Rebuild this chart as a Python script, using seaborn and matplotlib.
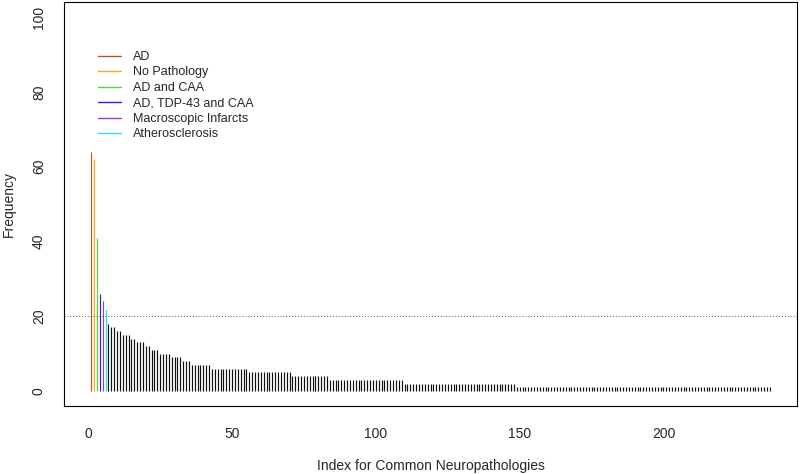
import numpy as np
import pandas as pd
import matplotlib
matplotlib.use("Agg")
import matplotlib.pyplot as plt
import seaborn as sns
from matplotlib.lines import Line2D

# top six pathologies (coloured) then the rest, as runs of equal frequency
top_labels = ['AD', 'No Pathology', 'AD and CAA', 'AD, TDP-43 and CAA',
              'Macroscopic Infarcts', 'Atherosclerosis']
top_freq = [64, 62, 41, 26, 24, 22]
top_colors = ['#C8501E', '#F5A623', '#55D43F', '#2525E0', '#9A3CC8', '#1EE6F0']

rest_values = [18, 17, 16, 15, 14, 13, 12, 11, 10, 9, 8, 7, 6, 5, 4, 3, 2, 1]
rest_counts = [1, 2, 2, 3, 2, 3, 2, 3, 4, 4, 3, 7, 13, 15, 13, 26, 39, 89]

threshold = 20

freq = top_freq + [v for v, c in zip(rest_values, rest_counts) for _ in range(c)]
df = pd.DataFrame({'index': np.arange(1, len(freq) + 1), 'freq': freq})
df['color'] = top_colors + ['#111111'] * (len(freq) - len(top_colors))

sns.set_style("white")
plt.rcParams['font.family'] = ['Liberation Sans', 'DejaVu Sans']

fig = plt.figure(figsize=(8, 4.74), dpi=100)
ax = fig.add_axes([64 / 800, 1 - 406 / 474, 733 / 800, 404 / 474])

ax.vlines(df['index'], 0, df['freq'], colors=df['color'], linewidth=0.85)
ax.axhline(threshold, color='#555555', linestyle=(0, (1, 2)), linewidth=0.7)

n = len(df)
ax.set_xlim(1 - 0.04 * (n - 1), n + 0.04 * (n - 1))
ax.set_ylim(-4, 104)
ax.set_xticks([0, 50, 100, 150, 200])
ax.set_yticks([0, 20, 40, 60, 80, 100])
ax.tick_params(axis='both', direction='out', length=6, width=0.8,
               labelsize=10, color='black')
ax.tick_params(axis='x', pad=9)
ax.tick_params(axis='y', pad=7)
for lab in ax.get_yticklabels():
    lab.set_rotation(90)
    lab.set_va('center')
for s in ax.spines.values():
    s.set_color('black')
    s.set_linewidth(0.8)

ax.set_xlabel('Index for Common Neuropathologies', fontsize=10)
ax.set_ylabel('Frequency', fontsize=10)
ax.xaxis.set_label_coords(0.5, -(466 - 406) / 404)
ax.xaxis.label.set_va('center')
ax.yaxis.set_label_coords(-(64 - 9) / 733, 0.5)
ax.yaxis.label.set_va('center')

handles = [Line2D([0], [0], color=c, linewidth=1.0) for c in top_colors]
ax.legend(handles, top_labels, loc='upper left', bbox_to_anchor=(0.046, 0.879),
          frameon=False, fontsize=9, handlelength=1.9, handletextpad=0.9,
          labelspacing=0.28, borderaxespad=0, borderpad=0)

fig.savefig('out.png', dpi=100)
